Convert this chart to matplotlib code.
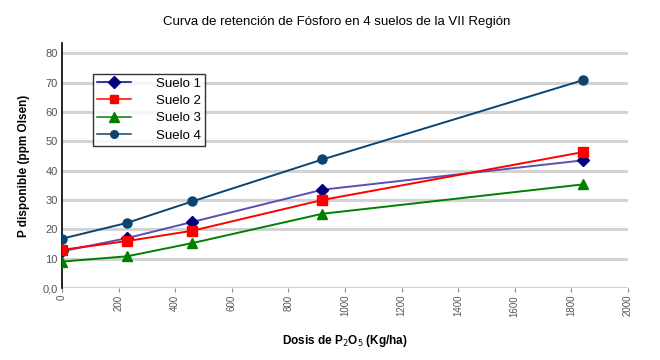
import numpy as np
import matplotlib.pyplot as plt

plt.rcParams['font.family'] = ['Liberation Sans', 'DejaVu Sans']

dosis = [0, 230, 460, 920, 1840]
suelo1 = [12.5, 17.0, 22.5, 33.5, 43.5]
suelo2 = [13.0, 16.0, 19.5, 30.0, 46.3]
suelo3 = [9.0, 10.8, 15.3, 25.3, 35.3]
suelo4 = [16.8, 22.2, 29.5, 43.8, 70.8]

y_ticks = [0, 10, 20, 30, 40, 50, 60, 70, 80]
y_ticklabels = ['0,0', '10', '20', '30', '40', '50', '60', '70', '80']
x_ticks = list(range(0, 2001, 200))

fig = plt.figure(figsize=(6.6, 3.6), dpi=100)
ax = fig.add_axes([62 / 660, 1 - 288 / 360, (628 - 62) / 660, (288 - 43) / 360])

for y in y_ticks:
    ax.axhline(y, color='#d3d3d3', linewidth=2.2, zorder=0)

ax.plot(dosis, suelo1, color='#5a4fb5', linewidth=1.4, zorder=3)
ax.plot(dosis, suelo1, color='#000080', marker='D', markersize=6,
        linestyle='None', zorder=3)
ax.plot(dosis, suelo2, color='#ff0000', marker='s', markersize=6.5,
        linewidth=1.4, zorder=4)
ax.plot(dosis, suelo3, color='#008000', marker='^', markersize=7,
        linewidth=1.4, zorder=3)
ax.plot(dosis, suelo4, color='#0b4470', marker='o', markersize=6.5,
        linewidth=1.4, zorder=3)

# legend handles
h1, = ax.plot([], [], color='#000080', marker='D', markersize=6, linewidth=1.1)
h2, = ax.plot([], [], color='#ff0000', marker='s', markersize=5.5, linewidth=1.1)
h3, = ax.plot([], [], color='#008000', marker='^', markersize=6.5, linewidth=1.1)
h4, = ax.plot([], [], color='#0b4470', marker='o', markersize=5.5, linewidth=1.1)
leg = ax.legend([h1, h2, h3, h4], ['Suelo 1', 'Suelo 2', 'Suelo 3', 'Suelo 4'],
                loc='upper left', bbox_to_anchor=(0.055, 0.875),
                frameon=True, fancybox=False, edgecolor='black',
                fontsize=9.5, handlelength=2.6, handletextpad=1.9,
                labelspacing=0.38, borderpad=0.3, borderaxespad=0)
leg.get_frame().set_linewidth(1.0)

ax.set_xlim(0, 2000)
ax.set_ylim(0, 83.5)
ax.set_xticks(x_ticks)
ax.set_xticklabels([str(x) for x in x_ticks], rotation=90, fontsize=7,
                   color='#555555')
ax.set_yticks(y_ticks)
ax.set_yticklabels(y_ticklabels, fontsize=8, color='#555555')
ax.tick_params(axis='y', length=0, pad=3)
ax.tick_params(axis='x', length=3, color='#888888', pad=2)

for side in ['top', 'right', 'bottom']:
    ax.spines[side].set_visible(False)
ax.spines['left'].set_color('black')
ax.spines['left'].set_linewidth(1.2)

ax.set_xlabel('Dosis de P$_2$O$_5$ (Kg/ha)', fontsize=8.5, fontweight='bold',
              labelpad=12)
ax.set_ylabel('P disponible (ppm Olsen)', fontsize=8.5, fontweight='bold',
              labelpad=9)
fig.text(0.51, 1 - 22 / 360, 'Curva de retención de Fósforo en 4 suelos de la VII Región',
         ha='center', va='center', fontsize=9.5)

fig.savefig('out.png', dpi=100)
